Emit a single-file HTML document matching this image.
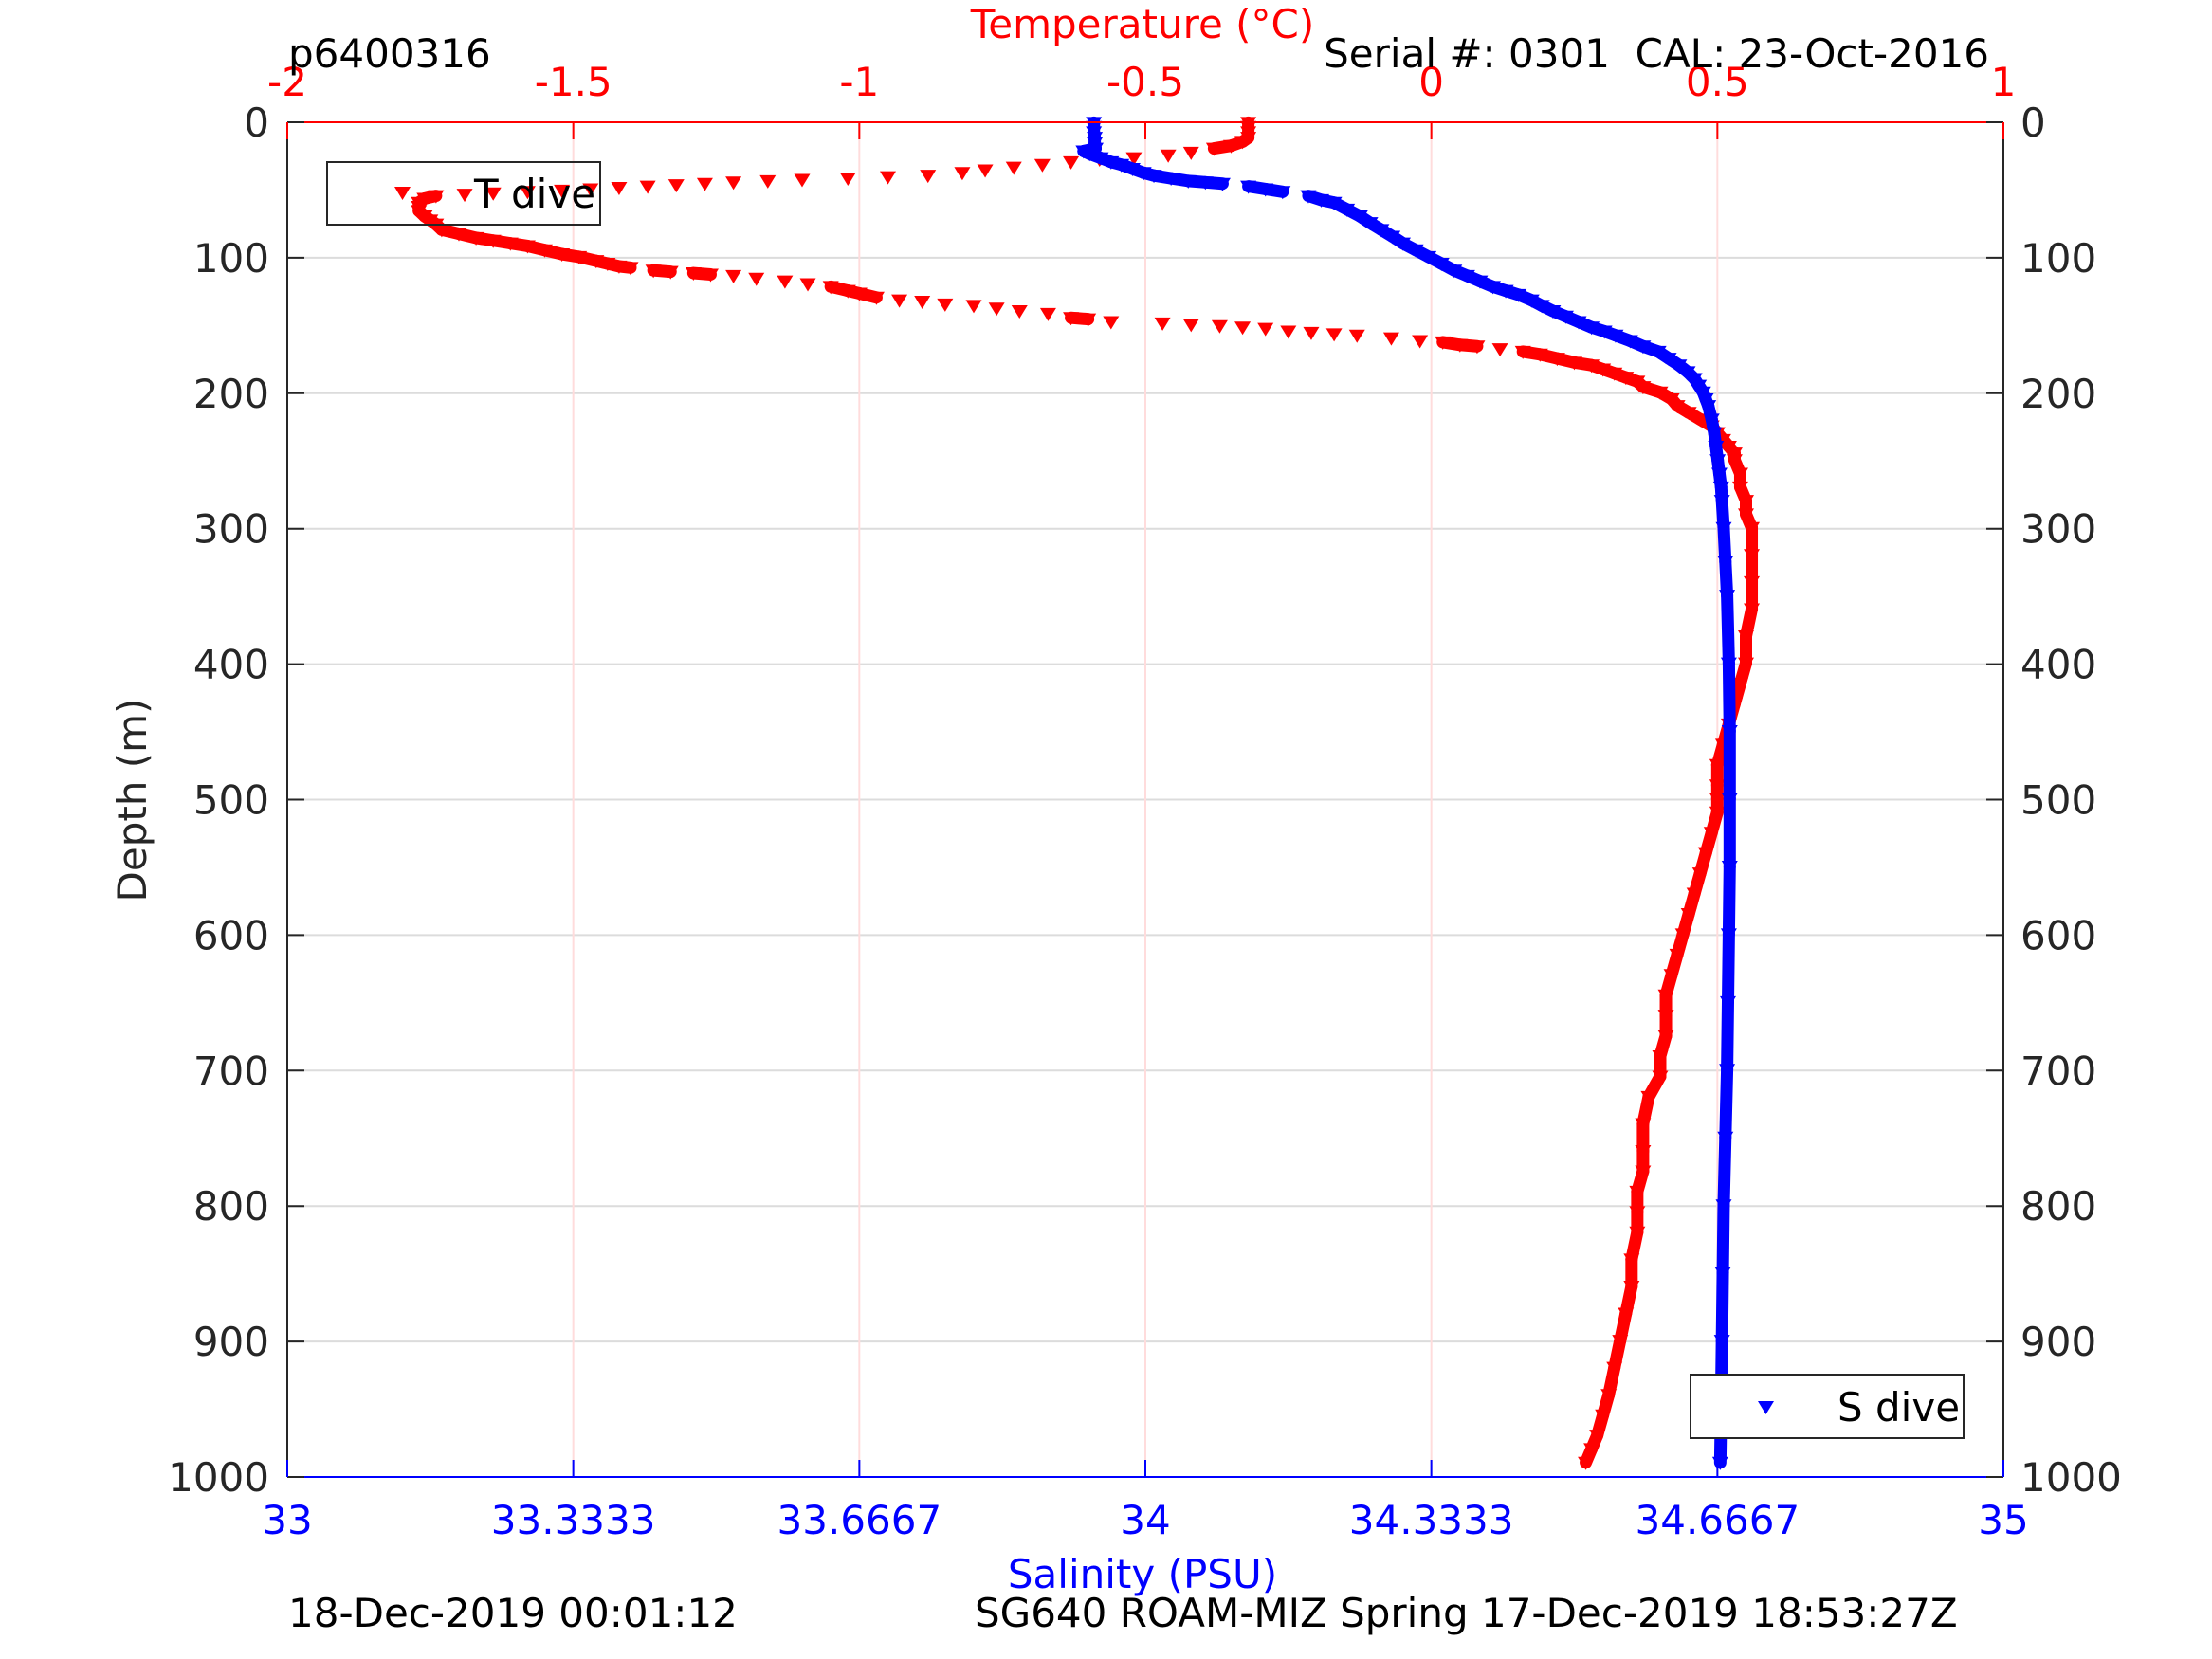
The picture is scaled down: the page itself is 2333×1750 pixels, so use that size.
<!DOCTYPE html>
<html><head><meta charset="utf-8"><style>
html,body{margin:0;padding:0;background:#fff;}
svg{display:block;font-family:"DejaVu Sans","Liberation Sans",sans-serif;}
</style></head><body>
<svg id="chart" width="2333" height="1750" viewBox="0 0 2333 1750" xmlns="http://www.w3.org/2000/svg">
<rect x="0" y="0" width="2333" height="1750" fill="#fff"/>
<g id="grid"></g>
<g id="series"></g>
<g id="axes"></g>
<text x="1205" y="40" font-size="42" fill="#ff0000" text-anchor="middle">Temperature (°C)</text>
<text x="1205" y="1675" font-size="42" fill="#0000ff" text-anchor="middle">Salinity (PSU)</text>
<text transform="translate(154,844) rotate(-90)" font-size="42" fill="#262626" text-anchor="middle">Depth (m)</text>
<text x="304" y="71" font-size="42" fill="#000">p6400316</text>
<text x="2098" y="71" font-size="42" fill="#000" text-anchor="end" xml:space="preserve">Serial #: 0301  CAL: 23-Oct-2016</text>
<text x="304" y="1716" font-size="42" fill="#000">18-Dec-2019 00:01:12</text>
<text x="1028" y="1716" font-size="42" fill="#000">SG640 ROAM-MIZ Spring 17-Dec-2019 18:53:27Z</text>
<g>
<rect x="345" y="171" width="288" height="66" fill="none" stroke="#262626" stroke-width="2"/>
<path d="M416,197 L433,197 L424.5,211 Z" fill="#ff0000"/>
<text x="500" y="219" font-size="42" fill="#000">T dive</text>
</g>
<g>
<rect x="1783" y="1450" width="288" height="67" fill="#fff" stroke="#262626" stroke-width="2"/>
<path d="M1854,1478 L1871,1478 L1862.5,1492 Z" fill="#0000ff"/>
<text x="1938" y="1499" font-size="42" fill="#000">S dive</text>
</g>
</svg>
<script>
// ---- data ----
const depthTicks = [0,100,200,300,400,500,600,700,800,900,1000];
const tempTicks = [-2,-1.5,-1,-0.5,0,0.5,1];
const tempTickLabels = ["-2","-1.5","-1","-0.5","0","0.5","1"];
const salTicks = [33,33.3333,33.6667,34,34.3333,34.6667,35];
const salTickLabels = ["33","33.3333","33.6667","34","34.3333","34.6667","35"];
const tempDepth = [1,4,8,12,15,18,20,23,25,27,28,30,32,34,36,38,40,41,42,43,44,45,46,47,48,49,50,51,52,53,54,55,57,60,63,66,70,73,76,80,83,86,88,90,92,95,98,100,103,105,107,108,110,111,112,113,114,116,118,120,122,125,127,130,132,133,135,136,138,140,142,145,146,148,149,150,151,152,153,155,156,157,158,160,162,163,165,166,168,170,172,175,178,180,183,186,189,192,196,200,205,210,215,220,225,230,235,240,245,250,260,270,280,290,300,320,340,360,380,400,415,430,445,460,475,490,500,510,525,540,555,570,585,600,615,630,645,660,675,690,705,720,740,760,775,790,805,820,840,860,880,900,920,940,955,970,980,990];
const tempVals = [-0.32,-0.32,-0.32,-0.32,-0.33,-0.35,-0.38,-0.42,-0.46,-0.52,-0.58,-0.63,-0.68,-0.73,-0.78,-0.82,-0.88,-0.95,-1.02,-1.10,-1.16,-1.22,-1.27,-1.32,-1.37,-1.42,-1.47,-1.52,-1.58,-1.64,-1.69,-1.74,-1.76,-1.77,-1.77,-1.77,-1.76,-1.75,-1.74,-1.73,-1.70,-1.67,-1.64,-1.61,-1.58,-1.55,-1.52,-1.49,-1.46,-1.44,-1.42,-1.40,-1.36,-1.33,-1.29,-1.26,-1.22,-1.18,-1.13,-1.09,-1.05,-1.02,-1.00,-0.97,-0.93,-0.89,-0.85,-0.80,-0.76,-0.72,-0.67,-0.63,-0.60,-0.56,-0.47,-0.42,-0.37,-0.33,-0.29,-0.25,-0.21,-0.17,-0.13,-0.07,-0.02,0.02,0.05,0.08,0.12,0.16,0.19,0.22,0.25,0.28,0.30,0.32,0.34,0.36,0.37,0.40,0.42,0.43,0.45,0.47,0.49,0.50,0.51,0.52,0.53,0.53,0.54,0.54,0.55,0.55,0.56,0.56,0.56,0.56,0.55,0.55,0.54,0.53,0.52,0.51,0.50,0.50,0.50,0.50,0.49,0.48,0.47,0.46,0.45,0.44,0.43,0.42,0.41,0.41,0.41,0.40,0.40,0.38,0.37,0.37,0.37,0.36,0.36,0.36,0.35,0.35,0.34,0.33,0.32,0.31,0.30,0.29,0.28,0.27,0.27,0.26,0.26,0.25];
const salDepth = [1,4,8,12,16,20,22,24,27,30,32,35,38,40,42,44,45,46,48,50,52,55,58,60,65,70,75,80,85,90,95,100,105,110,114,118,122,125,128,132,136,140,144,148,152,155,158,162,166,170,175,180,185,190,195,200,205,210,220,230,240,250,260,270,280,300,325,350,400,450,500,550,600,650,700,750,800,850,900,950,990];
const salVals = [33.940,33.940,33.940,33.941,33.941,33.942,33.928,33.935,33.948,33.960,33.972,33.985,33.998,34.010,34.030,34.050,34.070,34.090,34.120,34.140,34.160,34.190,34.205,34.220,34.235,34.250,34.262,34.275,34.288,34.300,34.315,34.330,34.345,34.360,34.375,34.390,34.405,34.420,34.435,34.450,34.462,34.475,34.490,34.505,34.520,34.535,34.548,34.565,34.580,34.598,34.610,34.622,34.632,34.640,34.645,34.650,34.653,34.656,34.660,34.663,34.665,34.667,34.669,34.671,34.672,34.674,34.676,34.678,34.680,34.681,34.681,34.681,34.680,34.679,34.678,34.676,34.674,34.673,34.672,34.671,34.670];

// ---- layout ----
const L=303, R=2113, T=129, B=1558;
const NS="http://www.w3.org/2000/svg";
function yScale(d){return T+(d-0)/(1000-0)*(B-T);}
function xTemp(t){return L+(t-(-2))/(1-(-2))*(R-L);}
function xSal(s){return L+(s-33)/(35-33)*(R-L);}
function mk(tag,attrs,parent){const e=document.createElementNS(NS,tag);for(const k in attrs)e.setAttribute(k,attrs[k]);parent.appendChild(e);return e;}
const grid=document.getElementById('grid'), axes=document.getElementById('axes'), series=document.getElementById('series');

depthTicks.forEach((d)=>{
  if(d===0||d===1000) return;
  const y=yScale(d);
  const g=mk('line',{x1:L,x2:R,y1:y,y2:y,stroke:'#dcdcdc','stroke-width':2},grid);
  
  
});
tempTicks.forEach(t=>{
  if(t===-2||t===1) return;
  const x=xTemp(t);
  const g=mk('line',{x1:x,x2:x,y1:T,y2:B,stroke:'#ffdcdc','stroke-width':2},grid);
  
  
});

function tri(x,y,color,parent){
  return mk('path',{d:`M${x-8.5},${y-7} L${x+8.5},${y-7} L${x},${y+7} Z`,fill:color},parent);
}
function drawSeries(depths,vals,xf,color,name){
  const g=mk('g',{},series);
  
  
  for(let i=1;i<depths.length;i++){
    const x1=xf(vals[i-1]),y1=yScale(depths[i-1]),x2=xf(vals[i]),y2=yScale(depths[i]);
    if(Math.abs(x2-x1)<22){
      const ln=mk('line',{x1:x1,y1:y1-1,x2:x2,y2:y2-1,stroke:color,'stroke-width':13,'stroke-linecap':'round'},g);
      
      
    }
  }
  for(let i=0;i<depths.length;i++){
    const p=tri(xf(vals[i]),yScale(depths[i]),color,g);
    
    
  }
}
drawSeries(tempDepth,tempVals,xTemp,'#ff0000','temperature');
drawSeries(salDepth,salVals,xSal,'#0000ff','salinity');

let a;
a=mk('line',{x1:L,x2:L,y1:T,y2:B,stroke:'#262626','stroke-width':2},axes);


a=mk('line',{x1:R,x2:R,y1:T,y2:B,stroke:'#262626','stroke-width':2},axes);


a=mk('line',{x1:L,x2:R,y1:T,y2:T,stroke:'#ff0000','stroke-width':2},axes);


a=mk('line',{x1:L,x2:R,y1:B,y2:B,stroke:'#0000ff','stroke-width':2},axes);



depthTicks.forEach(d=>{
  const y=yScale(d);
  let t=mk('line',{x1:L,x2:L+18,y1:y,y2:y,stroke:'#262626','stroke-width':2},axes);
  
  
  t=mk('line',{x1:R-18,x2:R,y1:y,y2:y,stroke:'#262626','stroke-width':2},axes);
  
  
  let tx=mk('text',{x:284,y:y+15,'font-size':42,fill:'#262626','text-anchor':'end'},axes);
  tx.textContent=String(d);
  
  
  tx=mk('text',{x:2131,y:y+15,'font-size':42,fill:'#262626'},axes);
  tx.textContent=String(d);
  
  
});
tempTicks.forEach((v,i)=>{
  const x=xTemp(v);
  const t=mk('line',{x1:x,x2:x,y1:T,y2:T+18,stroke:'#ff0000','stroke-width':2},axes);
  
  
  const tx=mk('text',{x:x,y:101,'font-size':42,fill:'#ff0000','text-anchor':'middle'},axes);
  tx.textContent=tempTickLabels[i];
  
  
});
salTicks.forEach((v,i)=>{
  const x=xSal(v);
  const t=mk('line',{x1:x,x2:x,y1:B-18,y2:B,stroke:'#0000ff','stroke-width':2},axes);
  
  
  const tx=mk('text',{x:x,y:1618,'font-size':42,fill:'#0000ff','text-anchor':'middle'},axes);
  tx.textContent=salTickLabels[i];
  
  
});
</script>
</body></html>
